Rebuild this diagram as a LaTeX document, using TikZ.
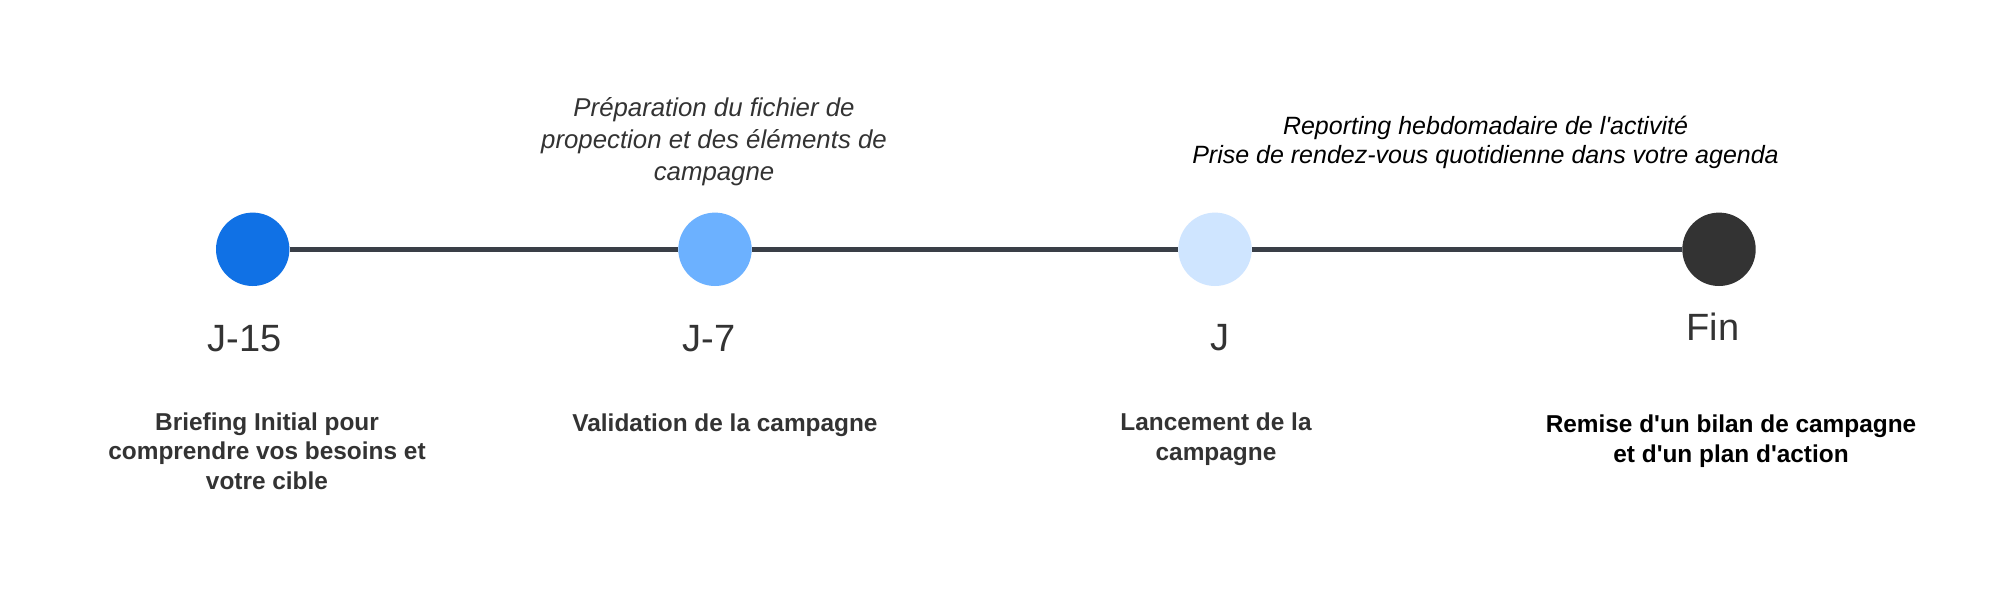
\documentclass[tikz,border=0pt]{standalone}
\usepackage{fontspec}
\setmainfont{Liberation Sans}[Ligatures=TeXOff]
\colorlet{background}{white}
\definecolor{penColor}{HTML}{333333}
\definecolor{lineColor}{HTML}{3A3F47}
\definecolor{fill1}{HTML}{1071E5}
\definecolor{fill2}{HTML}{6CB1FF}
\definecolor{fill3}{HTML}{CFE5FF}
\definecolor{fill4}{HTML}{333333}
\tikzset{
  dot/.style={circle, inner sep=0pt, minimum size=36.7pt},
  jourlabel/.style={penColor, anchor=base, inner sep=0pt, font=\fontsize{19}{23}\selectfont},
  tachelabel/.style={anchor=base, align=center, inner sep=0pt, font=\bfseries\fontsize{12.2}{14.7}\selectfont},
  notelabel/.style={anchor=base, align=center, inner sep=0pt, font=\itshape\fontsize{12.5}{14.5}\selectfont}
}

\begin{document}
\begin{tikzpicture}[x=0.5pt, y=-0.5pt]
        \fill[background] (0,0) rectangle (2000,594);
        % jalons
        \node[dot, fill=fill1] (A) at (252.7,249.3) {};
        \node[dot, fill=fill2] (B) at (715,249.3) {};
        \node[dot, fill=fill3] (C) at (1215,249.3) {};
        \node[dot, fill=fill4] (D) at (1719,249.3) {};
        \draw[lineColor, line width=2.5pt] (A) -- (B) -- (C) -- (D);

        \node[jourlabel] (jA) at (244.5,351.7) {J-15};
        \node[jourlabel] (jB) at (709,351.7) {J-7};
        \node[jourlabel] (jC) at (1220,350) {J};
        \node[jourlabel] (jD) at (1713,340) {Fin};

        % base = derniere ligne
        \node[notelabel, penColor, font=\itshape\fontsize{12.9}{15.8}\selectfont] (nB) at (714,180) {Préparation du fichier de\\propection et des éléments de\\campagne};
        \node[notelabel, black] (nC) at (1485.5,163) {Reporting hebdomadaire de l'activité\\Prise de rendez-vous quotidienne dans votre agenda};

        \node[tachelabel, penColor] (tA) at (267,489.3) {Briefing Initial pour\\comprendre vos besoins et\\votre cible};
        \node[tachelabel, penColor] (tB) at (725,431) {Validation de la campagne};
        \node[tachelabel, penColor] (tC) at (1216,460) {Lancement de la\\campagne};
        \node[tachelabel, black] (tD) at (1731,462) {Remise d'un bilan de campagne\\et d'un plan d'action};
\end{tikzpicture}
\end{document}
